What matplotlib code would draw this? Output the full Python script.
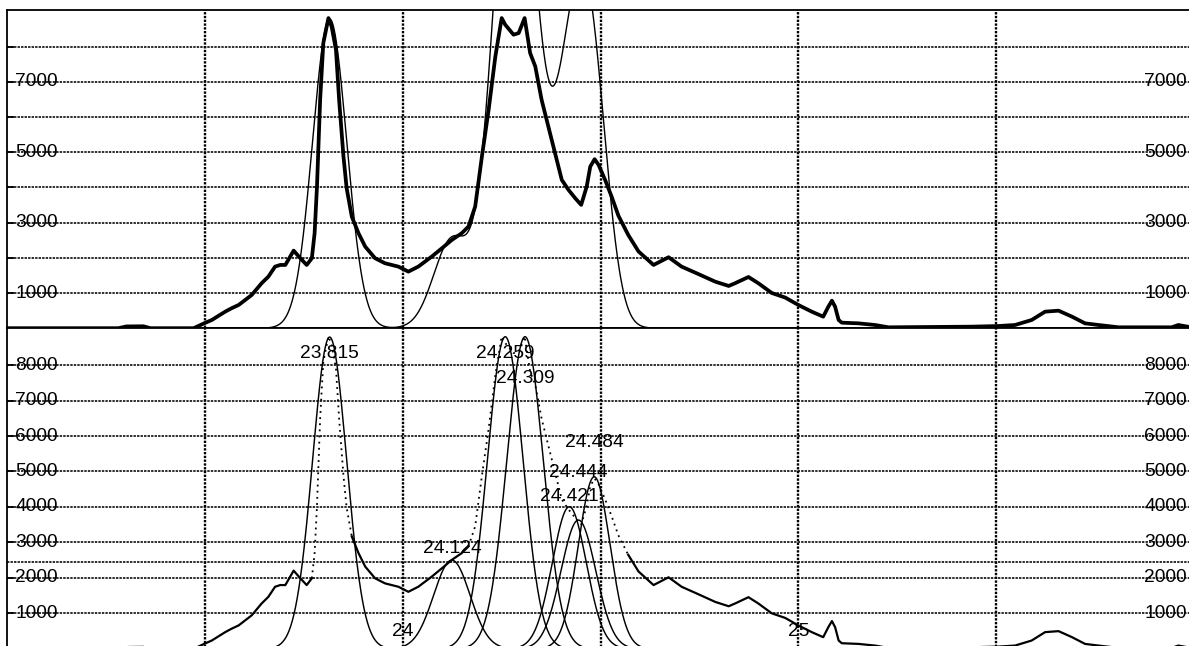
"""
Chromatogram with peak deconvolution: raw trace and fit envelope on top,
fitted components with retention-time labels underneath.
"""

from __future__ import annotations

import matplotlib

matplotlib.use("Agg")

import matplotlib.pyplot as plt
import numpy as np

# raw detector trace (retention time in min, intensity in counts)
TRACE_TIME = [
    23.000, 23.281, 23.301, 23.344, 23.362, 23.471, 23.498, 23.517, 23.551, 23.567,
    23.585, 23.618, 23.643, 23.660, 23.677, 23.690, 23.703, 23.724, 23.741, 23.757,
    23.770, 23.777, 23.783, 23.791, 23.799, 23.812, 23.820, 23.831, 23.839, 23.850,
    23.858, 23.871, 23.888, 23.905, 23.930, 23.955, 23.989, 24.014, 24.039, 24.073,
    24.099, 24.124, 24.149, 24.166, 24.183, 24.200, 24.217, 24.234, 24.250, 24.259,
    24.280, 24.293, 24.308, 24.322, 24.335, 24.351, 24.368, 24.385, 24.402, 24.419,
    24.436, 24.451, 24.465, 24.474, 24.485, 24.495, 24.512, 24.528, 24.545, 24.570,
    24.596, 24.634, 24.672, 24.705, 24.747, 24.790, 24.824, 24.840, 24.874, 24.899,
    24.933, 24.967, 25.000, 25.034, 25.063, 25.076, 25.085, 25.093, 25.102, 25.110,
    25.152, 25.194, 25.228, 25.439, 25.506, 25.548, 25.590, 25.624, 25.658, 25.692,
    25.725, 25.759, 25.810, 25.944, 25.961, 25.984,
]
TRACE_SIGNAL = [
    0, 0, 50, 55, 0, 0, 140, 233, 470, 566,
    660, 944, 1277, 1464, 1749, 1797, 1797, 2204, 1987, 1797,
    1987, 2698, 4023, 6488, 8100, 8811, 8573, 7910, 6488, 4876,
    3978, 3170, 2698, 2317, 1987, 1845, 1749, 1607, 1749, 2033,
    2272, 2508, 2698, 2886, 3455, 4876, 6204, 7720, 8811, 8622,
    8338, 8385, 8811, 7815, 7436, 6488, 5729, 4971, 4213, 3929,
    3693, 3503, 4023, 4592, 4801, 4640, 4200, 3739, 3200, 2650,
    2180, 1797, 2016, 1749, 1540, 1322, 1200, 1277, 1455, 1277,
    1000, 870, 660, 470, 328, 612, 782, 612, 233, 157,
    138, 91, 25, 44, 62, 91, 233, 470, 498, 328,
    138, 91, 25, 25, 91, 44,
]

# fitted gaussian components
PEAK_TIME = [23.815, 24.124, 24.259, 24.309, 24.421, 24.444, 24.484]
PEAK_HEIGHT = [8790, 2500, 8800, 8800, 4005, 3630, 4850]
PEAK_SIGMA = [0.043, 0.046, 0.045, 0.046, 0.043, 0.044, 0.040]
# where each retention-time label sits (counts), same order as PEAK_TIME
PEAK_LABEL_Y = [8337, 2833, 8337, 7633, 4307, 4969, 5815]

# stretches of the trace covered by the fit, drawn dotted below
FIT_WINDOWS = [(23.770, 23.871), (24.166, 24.570)]

THRESHOLD = 2450
X_RANGE = (23.0, 26.0)
Y_MAX = 9040
GRID_X = [23.5, 24.0, 24.5, 25.0, 25.5]
X_LABELS = [24, 25]
GRID_Y = [1000, 2000, 3000, 4000, 5000, 6000, 7000, 8000]
TOP_Y_LABELS = [1000, 3000, 5000, 7000]
BOTTOM_Y_LABELS = [1000, 2000, 3000, 4000, 5000, 6000, 7000, 8000]

FONT = "Liberation Sans"
FONT_SIZE = 13.8
H_DASH = (0, (1.5, 0.7))
V_DOT = (0, (1.0, 0.6))


def gaussian(t: np.ndarray, center: float, height: float, sigma: float) -> np.ndarray:
    """Single gaussian peak."""
    return height * np.exp(-0.5 * ((t - center) / sigma) ** 2)


def style_axes(ax: plt.Axes, y_labels: list[int]) -> None:
    """Grid, inward ticks and the in-plot intensity labels."""
    ax.set_xlim(*X_RANGE)
    ax.set_ylim(0, Y_MAX)
    ax.set_xticks(GRID_X)
    ax.set_yticks(GRID_Y)
    ax.tick_params(axis="x", length=0, labelbottom=False)
    ax.tick_params(axis="y", direction="in", length=5, width=1.3, labelleft=False)
    ax.grid(axis="y", color="black", linestyle=H_DASH, linewidth=1.15)
    ax.grid(axis="x", color="black", linestyle=V_DOT, linewidth=1.7)
    for side in ("left", "top", "right", "bottom"):
        ax.spines[side].set_linewidth(1.3)

    trans = ax.get_yaxis_transform()
    for val in y_labels:
        ax.text(0.0065, val, str(val), transform=trans, ha="left", va="center",
                fontsize=FONT_SIZE, family=FONT)
        ax.text(0.9943, val, str(val), transform=trans, ha="right", va="center",
                fontsize=FONT_SIZE, family=FONT)


def main() -> None:
    time = np.asarray(TRACE_TIME)
    signal = np.asarray(TRACE_SIGNAL, dtype=float)

    t_fit = np.linspace(X_RANGE[0], X_RANGE[1], 3001)
    components = [
        gaussian(t_fit, c, h, s) for c, h, s in zip(PEAK_TIME, PEAK_HEIGHT, PEAK_SIGMA)
    ]
    envelope = np.sum(components, axis=0)

    fig = plt.figure(figsize=(11.89, 6.46), dpi=100)
    ax_top = fig.add_axes([0.00614, 0.49195, 0.99790, 0.49257])
    ax_bot = fig.add_axes([0.00614, -0.00433, 0.99790, 0.49628])

    # top: raw trace (heavy) with the summed fit
    ax_top.plot(time, signal, color="black", linewidth=2.7, solid_joinstyle="round")
    ax_top.plot(t_fit, envelope, color="black", linewidth=1.0)
    style_axes(ax_top, TOP_Y_LABELS)

    # bottom: trace, dotted where it was fitted, plus every component
    in_window = np.zeros(len(time), dtype=bool)
    for start, end in FIT_WINDOWS:
        in_window |= (time > start) & (time < end)
    solid = np.where(in_window, np.nan, signal)
    ax_bot.plot(time, solid, color="black", linewidth=1.6)
    for start, end in FIT_WINDOWS:
        sel = (time >= start) & (time <= end)
        ax_bot.plot(time[sel], signal[sel], color="black", linewidth=1.3,
                    linestyle=(0, (1.0, 2.4)))
    for comp in components:
        ax_bot.plot(t_fit, comp, color="black", linewidth=1.05)
    ax_bot.axhline(THRESHOLD, color="black", linestyle=H_DASH, linewidth=1.15, zorder=1.5)
    style_axes(ax_bot, BOTTOM_Y_LABELS)

    for center, label_y in zip(PEAK_TIME, PEAK_LABEL_Y):
        ax_bot.text(center, label_y, f"{center:.3f}", ha="center", va="center",
                    fontsize=FONT_SIZE, family=FONT)

    xtrans = ax_bot.get_xaxis_transform()
    for val in X_LABELS:
        ax_bot.text(val, 0.0555, str(val), transform=xtrans, ha="center", va="center",
                    fontsize=FONT_SIZE, family=FONT)

    fig.savefig("out.png", dpi=100)
    plt.close(fig)


if __name__ == "__main__":
    main()
